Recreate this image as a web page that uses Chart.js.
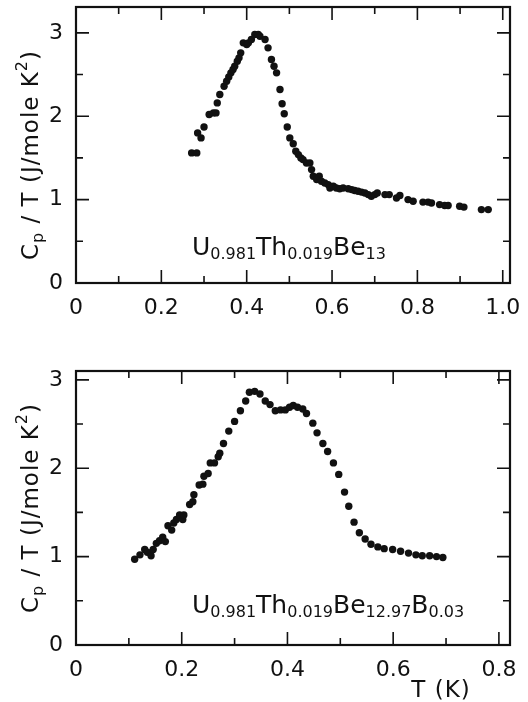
<!DOCTYPE html>
<html>
<head>
<meta charset="utf-8">
<script src="https://cdn.jsdelivr.net/npm/chart.js@4.4.1/dist/chart.umd.min.js"></script>
<style>
  html, body { margin: 0; padding: 0; background: #fff; }
  canvas { position: absolute; left: 0; }
  #topChart { top: 0; }
  #botChart { top: 330px; }
</style>
</head>
<body>
<canvas id="topChart" width="528" height="330"></canvas>
<canvas id="botChart" width="528" height="372"></canvas>
<script>
// Upper panel: U0.981Th0.019Be13
const topT = [0.271, 0.283, 0.285, 0.293, 0.300, 0.312, 0.322, 0.328, 0.331, 0.337,
  0.347, 0.353, 0.358, 0.363, 0.368, 0.372, 0.378, 0.382, 0.386, 0.392,
  0.400, 0.404, 0.411, 0.419, 0.427, 0.431, 0.443, 0.450, 0.458, 0.464,
  0.470, 0.478, 0.483, 0.488, 0.495, 0.501, 0.509, 0.515, 0.521, 0.527,
  0.532, 0.540, 0.548, 0.552, 0.556, 0.564, 0.570, 0.575, 0.583, 0.591,
  0.595, 0.603, 0.610, 0.618, 0.626, 0.638, 0.646, 0.653, 0.661, 0.669,
  0.677, 0.685, 0.692, 0.700, 0.706, 0.724, 0.734, 0.751, 0.759, 0.778,
  0.790, 0.813, 0.825, 0.833, 0.852, 0.864, 0.872, 0.899, 0.909, 0.950, 0.966];
const topCpT = [1.56, 1.56, 1.80, 1.74, 1.87, 2.02, 2.04, 2.04, 2.16, 2.26,
  2.36, 2.42, 2.47, 2.52, 2.56, 2.60, 2.66, 2.70, 2.76, 2.88,
  2.86, 2.88, 2.92, 2.98, 2.98, 2.96, 2.92, 2.82, 2.68, 2.60,
  2.52, 2.32, 2.15, 2.03, 1.87, 1.74, 1.67, 1.58, 1.54, 1.50,
  1.48, 1.44, 1.44, 1.36, 1.28, 1.24, 1.28, 1.22, 1.20, 1.18,
  1.14, 1.16, 1.14, 1.13, 1.14, 1.13, 1.12, 1.11, 1.10, 1.09,
  1.08, 1.06, 1.04, 1.06, 1.08, 1.06, 1.06, 1.02, 1.05, 1.00,
  0.98, 0.97, 0.97, 0.96, 0.94, 0.93, 0.93, 0.92, 0.91, 0.88, 0.88];

// Lower panel: U0.981Th0.019Be12.97B0.03
const botT = [0.111, 0.121, 0.130, 0.135, 0.142, 0.146, 0.152, 0.158, 0.164, 0.169,
  0.174, 0.181, 0.185, 0.190, 0.196, 0.202, 0.204, 0.215, 0.221, 0.223,
  0.233, 0.240, 0.242, 0.250, 0.254, 0.262, 0.269, 0.272, 0.279, 0.289,
  0.300, 0.311, 0.321, 0.328, 0.338, 0.348, 0.358, 0.367, 0.377, 0.387,
  0.396, 0.404, 0.411, 0.419, 0.429, 0.436, 0.448, 0.456, 0.467, 0.476,
  0.487, 0.497, 0.508, 0.516, 0.526, 0.536, 0.547, 0.558, 0.571, 0.583,
  0.599, 0.614, 0.629, 0.643, 0.655, 0.669, 0.682, 0.694];
const botCpT = [0.97, 1.02, 1.08, 1.05, 1.01, 1.08, 1.15, 1.18, 1.22, 1.17,
  1.35, 1.30, 1.38, 1.42, 1.47, 1.42, 1.47, 1.59, 1.62, 1.70,
  1.81, 1.82, 1.91, 1.94, 2.06, 2.06, 2.13, 2.17, 2.28, 2.42,
  2.53, 2.65, 2.76, 2.86, 2.87, 2.84, 2.76, 2.72, 2.65, 2.66,
  2.66, 2.69, 2.71, 2.69, 2.67, 2.62, 2.51, 2.40, 2.28, 2.19,
  2.06, 1.93, 1.73, 1.57, 1.39, 1.27, 1.20, 1.14, 1.11, 1.09,
  1.08, 1.06, 1.04, 1.02, 1.01, 1.01, 1.00, 0.99];

// Tick values
const xTicksTop = [0, 0.2, 0.4, 0.6, 0.8, 1.0];
const xMinorTop = [0.1, 0.3, 0.5, 0.7, 0.9];
const xTicksBot = [0, 0.2, 0.4, 0.6, 0.8];
const xMinorBot = [0.1, 0.3, 0.5, 0.7];
const yTicks = [0, 1, 2, 3];
const yMinor = [0.5, 1.5, 2.5];

// Text pieces (sub = subscript, sup = superscript)
const yTitle = [{ t: 'C' }, { t: 'p', sub: true }, { t: ' / T (J/mole K' }, { t: '2', sup: true }, { t: ')' }];
const topLabel = [{ t: 'U' }, { t: '0.981', sub: true }, { t: 'Th' }, { t: '0.019', sub: true }, { t: 'Be' }, { t: '13', sub: true }];
const botLabel = [{ t: 'U' }, { t: '0.981', sub: true }, { t: 'Th' }, { t: '0.019', sub: true },
  { t: 'Be' }, { t: '12.97', sub: true }, { t: 'B' }, { t: '0.03', sub: true }];
const xTitle = 'T (K)';

const FONT = '"DejaVu Sans", sans-serif';
const INK = '#111';

function drawRich(ctx, parts, x, y, size, small, shift) {
  for (const p of parts) {
    ctx.font = (p.sub || p.sup ? small : size) + 'px ' + FONT;
    const dy = p.sub ? shift : (p.sup ? -size * 0.5 : 0);
    ctx.fillText(p.t, x, y + dy);
    x += ctx.measureText(p.t).width;
  }
  return x;
}

function richWidth(ctx, parts, size, small) {
  let w = 0;
  for (const p of parts) {
    ctx.font = (p.sub || p.sup ? small : size) + 'px ' + FONT;
    w += ctx.measureText(p.t).width;
  }
  return w;
}

// frame, inward ticks on four sides, and the extra text
const framePlugin = {
  id: 'frame',
  afterDraw(chart, args, opts) {
    const { ctx, chartArea: a, scales: { x, y } } = chart;
    ctx.save();
    ctx.strokeStyle = INK;
    ctx.fillStyle = INK;

    ctx.lineWidth = 1.6;
    const tick = (vals, len) => {
      vals.forEach(v => {
        const px = x.getPixelForValue(v);
        ctx.beginPath();
        ctx.moveTo(px, a.bottom); ctx.lineTo(px, a.bottom - len);
        ctx.moveTo(px, a.top); ctx.lineTo(px, a.top + len);
        ctx.stroke();
      });
    };
    const ytick = (vals, len) => {
      vals.forEach(v => {
        const py = y.getPixelForValue(v);
        ctx.beginPath();
        ctx.moveTo(a.left, py); ctx.lineTo(a.left + len, py);
        ctx.moveTo(a.right, py); ctx.lineTo(a.right - len, py);
        ctx.stroke();
      });
    };
    tick(opts.xMajor, 13);
    tick(opts.xMinor, 7);
    ytick(yTicks, 13);
    ytick(yMinor, 7);

    ctx.lineWidth = 2.2;
    ctx.strokeRect(a.left, a.top, a.right - a.left, a.bottom - a.top);

    // y axis title, rotated
    ctx.textBaseline = 'alphabetic';
    ctx.textAlign = 'left';
    ctx.letterSpacing = '1px';
    const w = richWidth(ctx, yTitle, 23, 16);
    ctx.save();
    ctx.translate(38, (a.top + a.bottom) / 2 + opts.titleShift);
    ctx.rotate(-Math.PI / 2);
    drawRich(ctx, yTitle, -w / 2, 0, 23, 16, 5);
    ctx.restore();

    // compound label
    ctx.letterSpacing = '0px';
    drawRich(ctx, opts.label, 192, opts.labelY, 25, 16, 4);

    if (opts.xTitle) {
      ctx.font = '23px ' + FONT;
      ctx.letterSpacing = '1px';
      ctx.textAlign = 'center';
      ctx.fillText(opts.xTitle, 441, opts.xTitleY);
    }
    ctx.restore();
  }
};

function makeChart(id, T, C, opt) {
  const fixTicks = vals => s => { s.ticks = vals.map(v => ({ value: v })); };
  return new Chart(document.getElementById(id), {
    type: 'scatter',
    data: {
      datasets: [{
        data: T.map((t, i) => ({ x: t, y: C[i] })),
        backgroundColor: INK,
        borderWidth: 0,
        pointRadius: 3.7,
        pointHoverRadius: 3.7
      }]
    },
    options: {
      responsive: false,
      devicePixelRatio: 1,
      animation: false,
      layout: { padding: { top: opt.padTop, right: 18, left: 0, bottom: 0 } },
      plugins: {
        legend: { display: false },
        tooltip: { enabled: false },
        frame: opt.frame
      },
      scales: {
        x: {
          type: 'linear',
          min: 0,
          max: opt.xMax,
          grid: { display: false, drawTicks: false, tickLength: 0 },
          border: { display: false },
          afterBuildTicks: fixTicks(opt.frame.xMajor),
          afterFit: s => { s.height = opt.xHeight; s.paddingLeft = 0; s.paddingRight = 0; },
          ticks: {
            padding: 12,
            color: INK,
            font: { family: FONT, size: 22 },
            callback: v => (v === 0 ? '0' : v.toFixed(1))
          }
        },
        y: {
          type: 'linear',
          min: 0,
          max: opt.yMax,
          grid: { display: false, drawTicks: false, tickLength: 0 },
          border: { display: false },
          afterBuildTicks: fixTicks(yTicks),
          afterFit: s => { s.width = 76; s.paddingTop = 0; s.paddingBottom = 0; },
          ticks: {
            padding: 13,
            color: INK,
            font: { family: FONT, size: 22 },
            callback: v => String(v)
          }
        }
      }
    },
    plugins: [framePlugin]
  });
}

makeChart('topChart', topT, topCpT, {
  padTop: 7, xHeight: 47, xMax: 1.017, yMax: 3.31,
  frame: { xMajor: xTicksTop, xMinor: xMinorTop, label: topLabel, labelY: 255, titleShift: 10 }
});

makeChart('botChart', botT, botCpT, {
  padTop: 41, xHeight: 57, xMax: 0.821, yMax: 3.10,
  frame: { xMajor: xTicksBot, xMinor: xMinorBot, label: botLabel, labelY: 283, titleShift: 0,
    xTitle: xTitle, xTitleY: 367 }
});
</script>
</body>
</html>
